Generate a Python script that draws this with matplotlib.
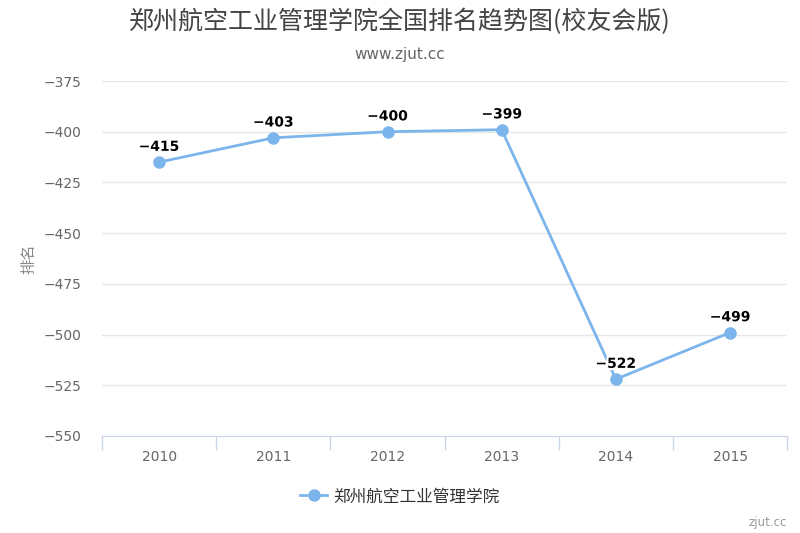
import matplotlib.pyplot as plt
import matplotlib.patheffects as pe

plt.rcParams['font.family'] = ['Noto Sans CJK SC', 'DejaVu Sans']

years = ['2010', '2011', '2012', '2013', '2014', '2015']
ranks = [-415, -403, -400, -399, -522, -499]
yticks = [-375, -400, -425, -450, -475, -500, -525, -550]
school = '郑州航空工业管理学院'

fig = plt.figure(figsize=(8, 5.33), dpi=100)
ax = fig.add_axes([0.1275, 0.182, 0.8565, 0.666])

x = list(range(len(years)))
ax.plot(x, ranks, color='#7cb5ec', lw=2, marker='o', ms=8, label=school, zorder=3)
for xi, v in zip(x, ranks):
    ax.annotate(str(v).replace('-', '−'), (xi, v), xytext=(0, 6), textcoords='offset points',
                ha='center', va='bottom', fontsize=10, fontweight='bold', color='black',
                family='DejaVu Sans',
                path_effects=[pe.withStroke(linewidth=3, foreground='white')], zorder=4)

ax.set_xlim(-0.5, len(years) - 0.5)
ax.set_ylim(-550, -375)
ax.set_yticks(yticks)
ax.set_yticklabels([str(t).replace('-', '−') for t in yticks], fontsize=10, color='#666666',
                   family='DejaVu Sans')
ax.set_xticks(x)
ax.set_xticklabels(years, fontsize=10, color='#666666', family='DejaVu Sans')
ax.set_xticks([i - 0.5 for i in range(len(years) + 1)], minor=True)
ax.tick_params(axis='x', which='major', length=0, pad=10)
ax.tick_params(axis='x', which='minor', length=10, color='#ccd6eb', width=1)
ax.tick_params(axis='y', length=0, pad=15)
ax.grid(axis='y', color='#e6e6e6', lw=1)
ax.set_axisbelow(True)
for s in ['top', 'right', 'left']:
    ax.spines[s].set_visible(False)
ax.spines['bottom'].set_color('#ccd6eb')
ax.set_ylabel('排名', fontsize=11, color='#888888', labelpad=4)

fig.text(0.5, 0.958, school + '全国排名趋势图(校友会版)', ha='center', va='center',
         fontsize=18, color='#444444')
fig.text(0.5, 0.897, 'www.zjut.cc', ha='center', va='center', fontsize=11, color='#666666',
         family='DejaVu Sans')
fig.text(0.984, 0.02, 'zjut.cc', ha='right', va='center', fontsize=8.5, color='#999999',
         family='DejaVu Sans')

leg = fig.legend(loc='center', bbox_to_anchor=(0.5, 0.068), frameon=False, fontsize=12,
                 handlelength=1.6, handletextpad=0.4)
for t in leg.get_texts():
    t.set_color('#333333')

fig.savefig('out.png', dpi=100)
